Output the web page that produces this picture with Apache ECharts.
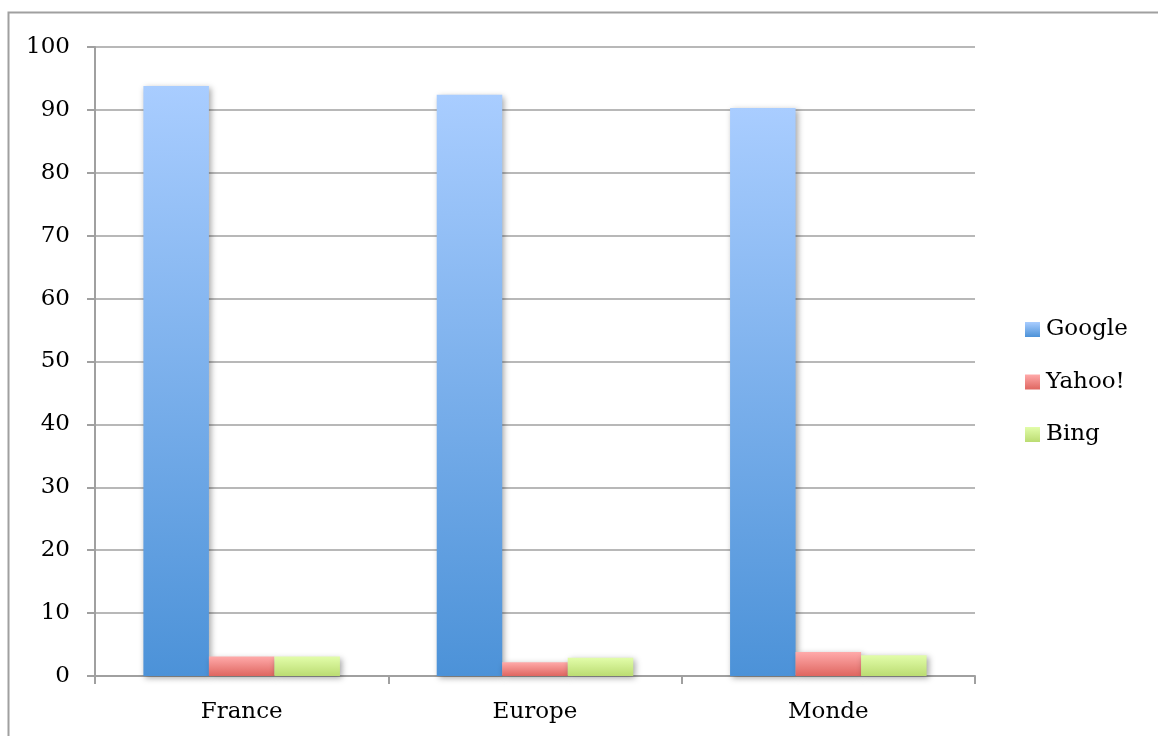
<!DOCTYPE html>
<html>
<head>
<meta charset="utf-8">
<script src="https://cdn.jsdelivr.net/npm/echarts@6/dist/echarts.min.js"></script>
<style>html,body{margin:0;padding:0;background:#fff;}#c{width:1158px;height:736px;}</style>
</head>
<body>
<div id="c"></div>
<script>
const categories = ['France', 'Europe', 'Monde'];
const google = [93.8, 92.4, 90.3];
const yahoo = [3.1, 2.2, 3.8];
const bing = [3.1, 2.9, 3.3];
const yTicks = [0, 100, 10];

const FONT = 'DejaVu Serif';
function grad(top, bottom) {
  return new echarts.graphic.LinearGradient(0, 0, 0, 1, [
    { offset: 0, color: top }, { offset: 1, color: bottom }
  ]);
}
const barShadow = { shadowBlur: 6, shadowColor: 'rgba(0,0,0,0.35)', shadowOffsetX: 2, shadowOffsetY: 2 };

const chart = echarts.init(document.getElementById('c'));
chart.setOption({
  animation: false,
  backgroundColor: '#fff',
  graphic: [{
    type: 'rect', shape: { x: 8.5, y: 12.5, width: 1170, height: 760 },
    style: { fill: 'none', stroke: '#a0a0a0', lineWidth: 2 }, silent: true
  }],
  grid: { left: 95, right: 183, top: 47, bottom: 60 },
  legend: {
    orient: 'vertical', left: 1025, top: 318, padding: 0,
    itemWidth: 15, itemHeight: 15, itemGap: 29.5, icon: 'rect',
    textStyle: { fontFamily: FONT, fontSize: 23, color: '#000', padding: [0, 0, 0, 1] },
    data: ['Google', 'Yahoo!', 'Bing']
  },
  xAxis: {
    type: 'category', data: categories,
    axisLine: { lineStyle: { color: '#a0a0a0', width: 2 } },
    axisTick: { show: true, length: 8, lineStyle: { color: '#a0a0a0', width: 2 } },
    axisLabel: { fontFamily: FONT, fontSize: 23, color: '#000', margin: 25 }
  },
  yAxis: {
    type: 'value', min: yTicks[0], max: yTicks[1], interval: yTicks[2],
    axisLine: { show: true, lineStyle: { color: '#a0a0a0', width: 2 } },
    axisTick: { show: true, length: 8, lineStyle: { color: '#a0a0a0', width: 2 } },
    splitLine: { lineStyle: { color: '#a0a0a0', width: 1.5 } },
    axisLabel: { fontFamily: FONT, fontSize: 23, color: '#000', margin: 25 }
  },
  series: [
    { name: 'Google', type: 'bar', data: google, barGap: '0%', barCategoryGap: '33%',
      itemStyle: Object.assign({ color: grad('#a9cdff', '#4c92d8') }, barShadow) },
    { name: 'Yahoo!', type: 'bar', data: yahoo,
      itemStyle: Object.assign({ color: grad('#ffaaaa', '#df6660') }, barShadow) },
    { name: 'Bing', type: 'bar', data: bing,
      itemStyle: Object.assign({ color: grad('#e2fdaa', '#bbdc72') }, barShadow) }
  ]
});
</script>
</body>
</html>
